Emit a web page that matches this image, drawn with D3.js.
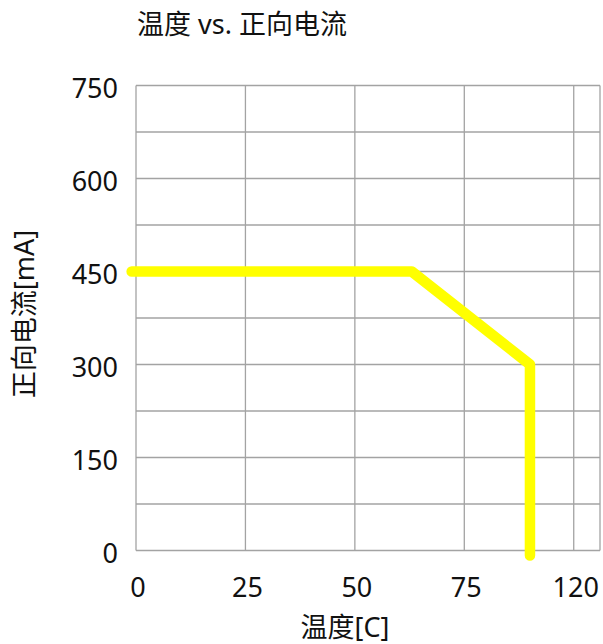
<!DOCTYPE html>
<html>
<head>
<meta charset="utf-8">
<script src="https://cdn.jsdelivr.net/npm/d3@7"></script>
<style>
  html, body { margin: 0; padding: 0; background: #ffffff; }
  svg { display: block; }
  text { font-family: "Noto Sans", "Noto Sans CJK SC", sans-serif; fill: #111; }
</style>
</head>
<body>
<svg id="chart" width="603" height="644"></svg>
<script>
// ---- data ----
const chartTitle = "温度 vs. 正向电流";
const xTitle = "温度[C]";
const yTitle = "正向电流[mA]";
const temperature = [-1, 63, 90, 90];
const forwardCurrent = [450, 450, 300, -8];
const xTickValues = [0, 25, 50, 75, 100];
const xTickLabels = ["0", "25", "50", "75", "120"];
const yTickValues = [0, 150, 300, 450, 600, 750];
const yGridValues = [0, 75, 150, 225, 300, 375, 450, 525, 600, 675, 750];

// ---- layout ----
const svg = d3.select("#chart");
const margin = { left: 136, right: 3, top: 85.5, bottom: 93.5 };
const W = 603, H = 644;
const x = d3.scaleLinear().domain([0, 106]).range([margin.left, W - margin.right]);
const y = d3.scaleLinear().domain([0, 750]).range([H - margin.bottom, margin.top]);
const gridColor = "#a3a3a3";

// grid
const g = svg.append("g");
g.selectAll("line.h").data(yGridValues).join("line")
  .attr("x1", x(0)).attr("x2", x(106))
  .attr("y1", d => y(d)).attr("y2", d => y(d))
  .attr("stroke", gridColor).attr("stroke-width", 1.3);
g.selectAll("line.v").data(xTickValues.concat([106])).join("line")
  .attr("x1", d => x(d)).attr("x2", d => x(d))
  .attr("y1", y(0)).attr("y2", y(750))
  .attr("stroke", gridColor).attr("stroke-width", 1.3);

// y tick labels
svg.append("g").selectAll("text").data(yTickValues).join("text")
  .attr("x", 118).attr("y", d => y(d) + 1.5)
  .attr("text-anchor", "end").attr("dominant-baseline", "central")
  .attr("font-size", 27).text(d => d);

// x tick labels
svg.append("g").selectAll("text").data(xTickValues).join("text")
  .attr("x", (d) => x(d) + 2).attr("y", 597)
  .attr("text-anchor", "middle")
  .attr("font-size", 27).text((d, i) => xTickLabels[i]);

// line
const line = d3.line().x(d => x(d[0])).y(d => y(d[1]));
svg.append("path")
  .datum(temperature.map((t, i) => [t, forwardCurrent[i]]))
  .attr("d", line)
  .attr("fill", "none").attr("stroke", "#ffff00")
  .attr("stroke-width", 10.5)
  .attr("stroke-linecap", "round").attr("stroke-linejoin", "round");

// titles
svg.append("text").attr("x", 137).attr("y", 34)
  .attr("font-size", 27).text(chartTitle);
svg.append("text").attr("x", 345).attr("y", 637)
  .attr("text-anchor", "middle").attr("font-size", 27).text(xTitle);
svg.append("text")
  .attr("transform", `translate(34, ${(228 + 400) / 2}) rotate(-90)`)
  .attr("text-anchor", "middle").attr("font-size", 27).text(yTitle);
</script>
</body>
</html>
